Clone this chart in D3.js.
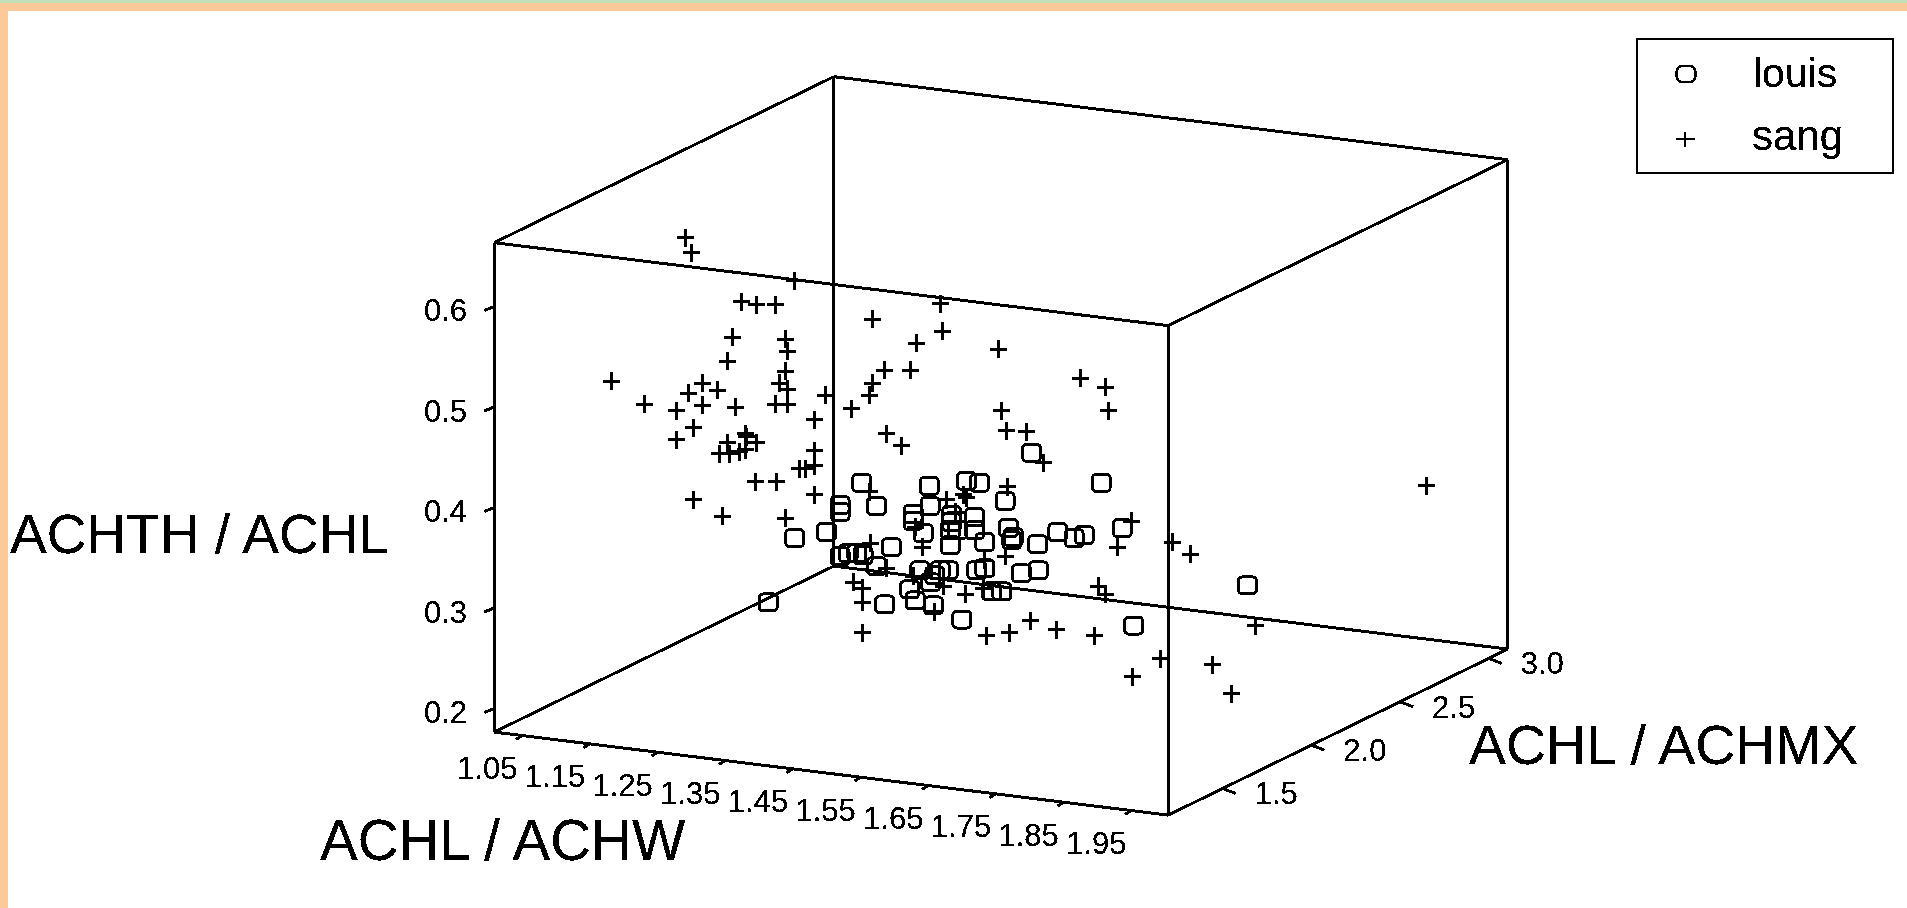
<!DOCTYPE html>
<html>
<head>
<meta charset="utf-8">
<script src="https://cdnjs.cloudflare.com/ajax/libs/d3/7.8.5/d3.min.js"></script>
<style>
html, body { margin: 0; padding: 0; background: #fff; overflow: hidden; }
svg { display: block; }
text { font-family: "Liberation Sans", Arial, sans-serif; fill: #000; filter: url(#hard); }
</style>
</head>
<body>
<svg id="chart" width="1907" height="908">
  <defs>
    <!-- the original is a bitmap with no smoothing on its text -->
    <filter id="hard" x="-5%" y="-5%" width="110%" height="110%">
      <feComponentTransfer>
        <feFuncA type="discrete" tableValues="0 1 1"></feFuncA>
      </feComponentTransfer>
    </filter>
  </defs>
</svg>
<script>
// tick labels on the three axes of the box
var xTicks = [1.05, 1.15, 1.25, 1.35, 1.45, 1.55, 1.65, 1.75, 1.85, 1.95],
  yTicks = [0.2, 0.3, 0.4, 0.5, 0.6],
  zTicks = [1.5, 2.0, 2.5, 3.0];

// where the box ends on each axis
var xLim = [1.009, 2.005],
  yLim = [0.178, 0.665],
  zLim = [1.193, 3.107];

// points, as [ACHL/ACHW, ACHTH/ACHL] along the front axes
var louis = [
  [1.803,.456],[1.906,.426],[1.764,.408],[1.937,.381],[1.842,.377],[1.866,.371],[1.881,.374],
  [1.769,.381],[1.774,.369],[1.776,.372],[1.812,.365],[1.788,.336],[1.813,.339],[2.122,.324],
  [1.954,.284],[1.552,.426],[1.574,.403],[1.652,.423],[1.707,.428],[1.726,.426],[1.520,.404],
  [1.520,.397],[1.500,.377],[1.453,.371],[1.653,.403],[1.628,.395],[1.628,.388],[1.643,.376],
  [1.683,.364],[1.685,.394],[1.683,.379],[1.719,.392],[1.719,.379],[1.734,.367],[1.596,.362],
  [1.545,.356],[1.532,.356],[1.554,.354],[1.520,.353],[1.574,.343],[1.623,.320],[1.631,.309],
  [1.658,.304],[1.586,.305],[1.700,.290],[1.414,.307],[1.668,.339],[1.680,.339],[1.638,.339],
  [1.722,.339],[1.734,.341],[1.744,.318],[1.759,.318],[1.685,.387],[1.694,.379],[1.660,.334],
  [1.654,.327]
];
var sang = [
  [1.292,.670],[1.301,.655],[1.453,.627],[1.375,.606],[1.397,.603],[1.425,.603],[1.568,.589],
  [1.633,.565],[1.668,.604],[1.672,.577],[1.361,.571],[1.439,.569],[1.442,.557],[1.353,.547],
  [1.439,.537],[1.183,.527],[1.317,.525],[1.430,.525],[1.339,.518],[1.442,.519],[1.296,.515],
  [1.499,.513],[1.231,.504],[1.279,.498],[1.317,.503],[1.365,.501],[1.425,.504],[1.442,.504],
  [1.482,.489],[1.304,.481],[1.279,.469],[1.380,.475],[1.382,.472],[1.397,.466],[1.353,.466],
  [1.342,.455],[1.357,.455],[1.371,.457],[1.381,.459],[1.482,.458],[1.537,.500],[1.564,.513],
  [1.568,.525],[1.586,.538],[1.624,.538],[1.589,.475],[1.611,.463],[1.754,.559],[1.875,.530],
  [1.913,.521],[1.917,.498],[1.758,.498],[1.766,.478],[1.796,.477],[1.820,.446],[1.767,.422],
  [1.950,.388],[1.930,.362],[2.012,.367],[2.038,.355],[2.387,.423],[1.764,.353],[1.902,.323],
  [1.912,.315],[2.134,.284],[1.994,.251],[2.070,.245],[1.952,.233],[2.099,.216],[1.482,.443],
  [1.469,.440],[1.460,.440],[1.395,.427],[1.426,.427],[1.482,.414],[1.304,.409],[1.347,.393],
  [1.439,.391],[1.540,.327],[1.553,.321],[1.553,.307],[1.553,.277],[1.565,.366],[1.589,.341],
  [1.631,.382],[1.642,.362],[1.628,.333],[1.673,.323],[1.660,.298],[1.706,.315],[1.737,.274],
  [1.771,.277],[1.801,.289],[1.840,.280],[1.896,.274],[1.733,.349],[1.732,.321],[1.702,.414],
  [1.678,.409],[1.707,.411],[1.690,.397],[1.563,.417]
];

var svg = d3.select("#chart");

// page frame that is left over around the picture
svg.append("rect").attr("width", 1907).attr("height", 4).attr("fill", "#c2ddb9");
svg.append("rect").attr("y", 3).attr("width", 1907).attr("height", 8).attr("fill", "#fec998");
svg.append("rect").attr("y", 3).attr("width", 8).attr("height", 905).attr("fill", "#fec998");

var x = d3.scaleLinear().domain([1.05, 1.95]).range([522, 1131]),
  y = d3.scaleLinear().domain([0.2, 0.6]).range([710, 308]),
  xDrop = d3.scaleLinear().domain(xLim).range([0, 83]),
  zRunX = d3.scaleLinear().domain(zLim).range([0, 339.5]),
  zRunY = d3.scaleLinear().domain(zLim).range([0, -166]);

function project(a, b, c) {
  return [x(a) + zRunX(c), y(b) + xDrop(a) + zRunY(c)];
}

var edges = [];
function edge(a1, b1, c1, a2, b2, c2) {
  edges.push([project(a1, b1, c1), project(a2, b2, c2)]);
}
[0, 1].forEach(function(i) {
  [0, 1].forEach(function(j) {
    edge(xLim[0], yLim[i], zLim[j], xLim[1], yLim[i], zLim[j]);
    edge(xLim[i], yLim[0], zLim[j], xLim[i], yLim[1], zLim[j]);
    edge(xLim[i], yLim[j], zLim[0], xLim[i], yLim[j], zLim[1]);
  });
});

var box = svg.append("g")
  .attr("stroke", "#000")
  .attr("stroke-width", 3)
  .attr("shape-rendering", "crispEdges");

box.selectAll("line.edge").data(edges).enter().append("line")
  .attr("class", "edge")
  .attr("x1", function(d) { return d[0][0]; })
  .attr("y1", function(d) { return d[0][1]; })
  .attr("x2", function(d) { return d[1][0]; })
  .attr("y2", function(d) { return d[1][1]; });

function tick(p, dx, dy) {
  box.append("line")
    .attr("x1", p[0]).attr("y1", p[1])
    .attr("x2", p[0] + dx).attr("y2", p[1] + dy);
}

var tickFont = 31;

xTicks.forEach(function(t) {
  var p = project(t, yLim[0], zLim[0]);
  tick(p, -6, 4);
  svg.append("text").attr("x", p[0] - 4.5).attr("y", p[1] + 43.5)
    .attr("text-anchor", "end").attr("font-size", tickFont)
    .text(d3.format(".2f")(t));
});
yTicks.forEach(function(t) {
  var p = project(xLim[0], t, zLim[0]);
  tick([p[0], p[1] - 1.5], -10, 4);
  svg.append("text").attr("x", 467).attr("y", y(t) + 13.2)
    .attr("text-anchor", "end").attr("font-size", tickFont)
    .text(d3.format(".1f")(t));
});
zTicks.forEach(function(t) {
  var p = project(xLim[1], yLim[0], t);
  tick(p, 13, 5);
  svg.append("text").attr("x", p[0] + 32).attr("y", p[1] + 16)
    .attr("font-size", tickFont)
    .text(d3.format(".1f")(t));
});

svg.append("text").attr("x", 10).attr("y", 553).attr("font-size", 55).text("ACHTH / ACHL");
svg.append("text").attr("x", 320).attr("y", 860).attr("font-size", 56.5).text("ACHL / ACHW");
svg.append("text").attr("x", 1469).attr("y", 764).attr("font-size", 55.5).text("ACHL / ACHMX");

function circleMark(sel, w, h, sw, r) {
  sel.attr("x", -w / 2).attr("y", -h / 2)
    .attr("width", w).attr("height", h)
    .attr("rx", r).attr("ry", r)
    .attr("fill", "none")
    .attr("stroke", "#000")
    .attr("stroke-width", sw)
    .attr("shape-rendering", "crispEdges");
}
function plusMark(sel, w, h, sw) {
  sel.attr("d", "M" + (-w / 2) + ",0H" + (w / 2) + "M0," + (-h / 2) + "V" + (h / 2))
    .attr("fill", "none")
    .attr("stroke", "#000")
    .attr("stroke-width", sw)
    .attr("shape-rendering", "crispEdges");
}

svg.append("g").selectAll("rect").data(louis).enter().append("rect")
  .attr("transform", function(d) { return "translate(" + x(d[0]) + "," + y(d[1]) + ")"; })
  .call(circleMark, 18, 17, 3, 4);

svg.append("g").selectAll("path").data(sang).enter().append("path")
  .attr("transform", function(d) { return "translate(" + x(d[0]) + "," + y(d[1]) + ")"; })
  .call(plusMark, 17, 18, 3);

// legend
var legend = svg.append("g");
legend.append("rect")
  .attr("x", 1637).attr("y", 39).attr("width", 256).attr("height", 134)
  .attr("fill", "#fff").attr("stroke", "#000").attr("stroke-width", 2.5)
  .attr("shape-rendering", "crispEdges");
legend.append("rect").attr("transform", "translate(1686,74)").call(circleMark, 19, 16, 2.5, 6);
legend.append("path").attr("transform", "translate(1685,139)").call(plusMark, 19, 15, 2);
legend.append("text").attr("x", 1753).attr("y", 87).attr("font-size", 41).text("louis");
legend.append("text").attr("x", 1752).attr("y", 150).attr("font-size", 42).text("sang");
</script>
</body>
</html>
